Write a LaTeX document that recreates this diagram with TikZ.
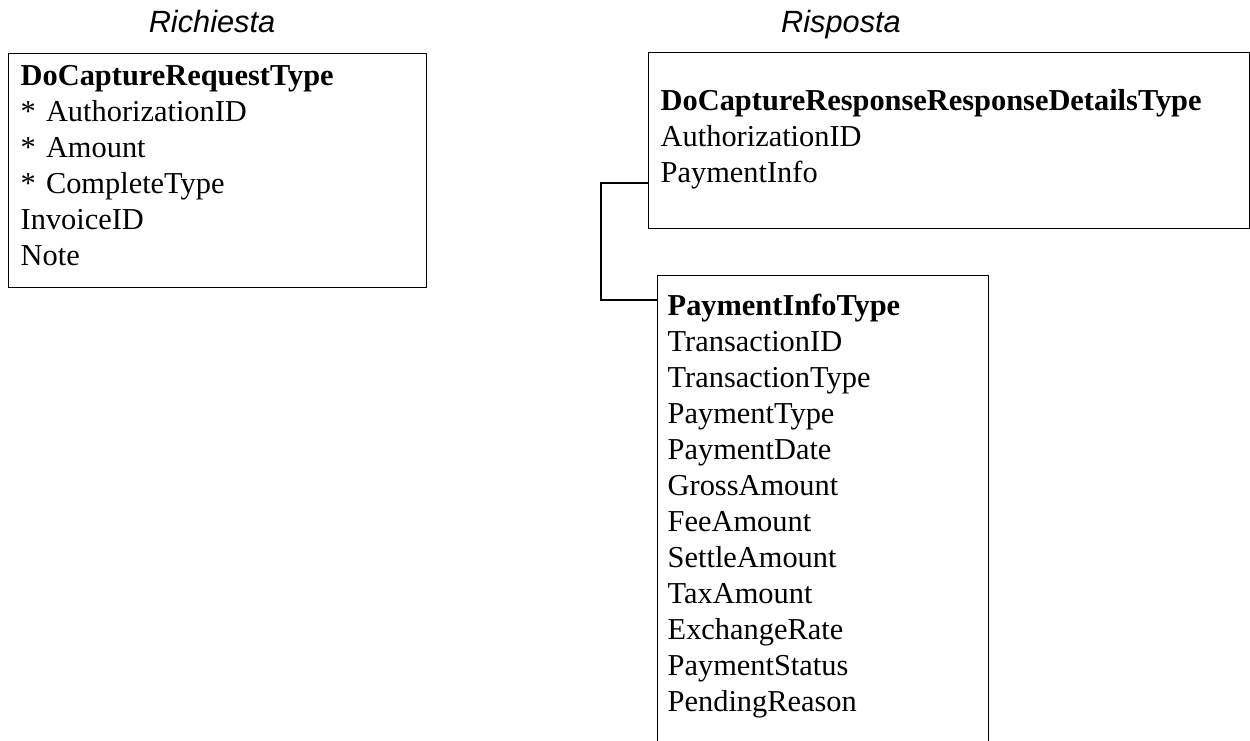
\documentclass[tikz,border=0pt]{standalone}
\usepackage{fontspec}
\setmainfont{Liberation Serif}
\newfontfamily\headfont{Liberation Sans}

\begin{document}
\begin{tikzpicture}[
    x=0.02cm,
    y=-0.02cm,
    box/.style ={
        draw=black,
        line width=0.8pt,
        anchor=north west,
        align=left,
        inner ysep=0pt,
        font=\fontsize{17.3}{20.5}\selectfont
    },
    head/.style ={
        anchor=base,
        font=\headfont\itshape\fontsize{17.5}{20}\selectfont
    },
    link/.style ={
        draw=black,
        line width=0.8pt
    }
    ]
    \useasboundingbox (0,0) rectangle (1250,740);
    \clip (0,0) rectangle (1250,740);

    \node[head] (reqhead) at (212,33) {Richiesta};
    \node[head] (resphead) at (841,33) {Risposta};

    \node[box, inner xsep=0.24cm, text width=7.88cm, text height=0.64cm, text depth=4.04cm] (req) at (8,53)
        {\textbf{DoCaptureRequestType}\\{*} AuthorizationID\\{*} Amount\\{*} CompleteType\\InvoiceID\\Note};

    \node[box, inner xsep=0.24cm, text width=11.54cm, text height=1.16cm, text depth=2.36cm] (resp) at (648,52)
        {\textbf{DoCaptureResponseResponseDetailsType}\\AuthorizationID\\PaymentInfo};

    \node[box, inner xsep=0.2cm, text width=6.22cm, text height=0.8cm, text depth=10cm] (pinfo) at (657,275)
        {\textbf{PaymentInfoType}\\TransactionID\\TransactionType\\PaymentType\\PaymentDate\\GrossAmount\\
         FeeAmount\\SettleAmount\\TaxAmount\\ExchangeRate\\PaymentStatus\\PendingReason};

    \coordinate (piout) at ([yshift=-2.62cm]resp.north west);
    \coordinate (piin) at ([yshift=-0.5cm]pinfo.north west);
    \draw[link] (piout) -- ++(-47,0) |- (piin);
\end{tikzpicture}
\end{document}
